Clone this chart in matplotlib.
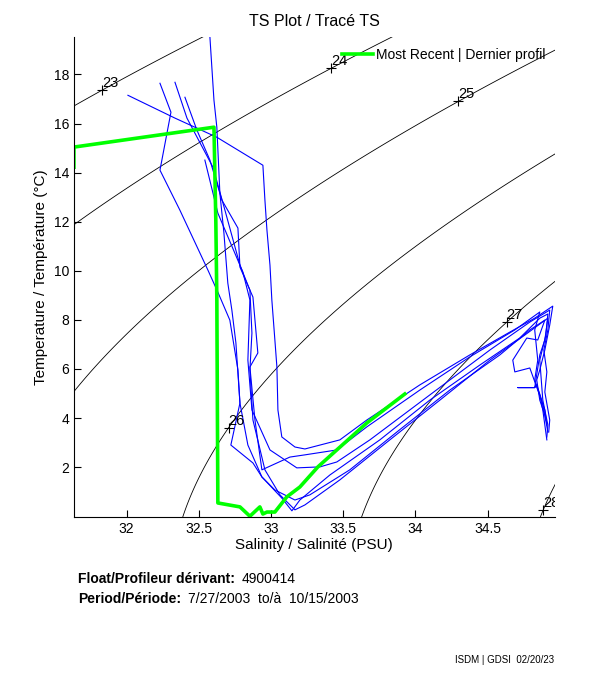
import numpy as np
import matplotlib
matplotlib.use("Agg")
import matplotlib.pyplot as plt
from matplotlib.lines import Line2D

plt.rcParams['font.family'] = ['Liberation Sans', 'DejaVu Sans']

# Most recent profile (green)
recent_S = [31.635, 31.635, 32.605, 32.618, 32.625, 32.632, 32.785, 32.854, 32.923,
            32.944, 32.972, 33.027, 33.110, 33.200, 33.325, 33.664, 33.927]
recent_T = [14.22, 15.04, 15.85, 12.0, 8.8, 0.54, 0.38, 0.0, 0.38,
            0.09, 0.17, 0.17, 0.79, 1.19, 2.01, 3.80, 4.98]

# Earlier profiles (blue)
p1_S = [32.577, 32.605, 32.625, 32.646, 32.674, 32.701, 32.729, 32.757, 32.785, 32.840,
        32.937, 33.075, 33.145, 33.200, 33.408, 33.754, 34.100, 34.447, 34.723, 34.862,
        34.918, 34.904, 34.862, 34.883, 34.918, 34.911]
p1_T = [19.52, 16.95, 15.85, 13.16, 11.54, 9.50, 8.40, 7.06, 4.61, 2.90,
        1.60, 0.74, 0.22, 0.66, 1.68, 3.11, 4.73, 6.16, 7.26, 8.07,
        8.24, 7.38, 6.36, 4.73, 3.72, 3.23]

p2_S = [32.009, 32.335, 32.625, 32.944, 32.958, 32.972, 32.993, 33.006, 33.027, 33.041,
        33.048, 33.075, 33.166, 33.235, 33.477, 33.664, 34.031, 34.377, 34.654, 34.827,
        34.952, 34.931, 34.897, 34.862, 34.841, 34.862, 34.897, 34.918]
p2_T = [17.15, 16.22, 15.44, 14.30, 12.88, 11.66, 10.23, 8.81, 7.18, 6.08,
        4.33, 3.23, 2.82, 2.74, 3.11, 3.92, 5.35, 6.57, 7.50, 8.07,
        8.56, 7.79, 6.77, 5.96, 5.55, 4.73, 4.12, 3.43]

p3_S = [32.231, 32.307, 32.231, 32.369, 32.563, 32.632, 32.715, 32.771, 32.785, 32.722,
        32.875, 32.937, 33.027, 33.166, 33.269, 33.546, 33.893, 34.239, 34.585, 34.793,
        34.897, 34.848, 34.772, 34.675, 34.689, 34.793, 34.848, 34.897, 34.911]
p3_T = [17.64, 16.46, 14.10, 12.47, 10.03, 9.13, 7.99, 5.96, 4.61, 2.90,
        2.17, 1.60, 1.07, 0.66, 0.87, 1.89, 3.53, 5.14, 6.57, 7.59,
        7.99, 7.18, 7.26, 6.36, 5.88, 6.04, 5.14, 4.33, 3.72]

p4_S = [32.335, 32.418, 32.598, 32.681, 32.785, 32.854, 32.868, 32.854, 32.875, 32.958,
        33.062, 33.166, 33.235, 33.477, 33.823, 34.170, 34.516, 34.758, 34.918, 34.897,
        34.862, 34.827, 34.710, 34.827, 34.841, 34.876, 34.904]
p4_T = [17.68, 16.22, 14.22, 12.47, 10.23, 9.21, 7.46, 5.96, 3.92, 1.89,
        0.87, 0.26, 0.46, 1.48, 3.11, 4.73, 6.36, 7.38, 8.07, 7.18,
        6.57, 5.24, 5.24, 5.24, 5.35, 4.73, 3.92]

p5_S = [32.404, 32.487, 32.577, 32.660, 32.771, 32.785, 32.875, 32.909, 32.854, 32.889,
        32.937, 33.131, 33.235, 33.456, 33.664, 34.031, 34.377, 34.689, 34.862, 34.827,
        34.848, 34.827, 34.862, 34.883, 34.911]
p5_T = [17.07, 15.73, 14.51, 12.88, 11.74, 10.15, 8.93, 6.65, 6.08, 3.92,
        1.89, 2.41, 2.50, 2.70, 3.64, 5.14, 6.49, 7.59, 8.32, 7.59,
        6.36, 5.55, 4.94, 4.33, 3.11]

p6_S = [32.542, 32.632, 32.805, 32.854, 32.840, 32.868, 32.993, 33.179, 33.339, 33.456,
        33.685, 34.100, 34.516, 34.793, 34.931, 34.918, 34.890, 34.911, 34.897, 34.931,
        34.924]
p6_T = [14.51, 12.35, 9.95, 8.81, 6.36, 4.33, 2.70, 1.97, 2.01, 2.21,
        3.11, 4.94, 6.77, 7.91, 8.40, 7.59, 6.77, 5.88, 5.06, 3.92,
        3.43]

blue_profiles = [(p1_S, p1_T), (p2_S, p2_T), (p3_S, p3_T),
                 (p4_S, p4_T), (p5_S, p5_T), (p6_S, p6_T)]

# isopycnals (sigma-t) and where their labels sit (temperature)
sigma_levels = [23, 24, 25, 26, 27, 28]
label_T = [17.36, 18.25, 16.9, 3.6, 7.9, 0.24]

xlim = (31.635, 34.966)
ylim = (-0.02, 19.52)
xticks = [32, 32.5, 33, 33.5, 34, 34.5]
yticks = [2, 4, 6, 8, 10, 12, 14, 16, 18]


def sigma_t(S, T):
    # UNESCO EOS-80 at surface pressure, minus 1000
    rw = (999.842594 + 6.793952e-2 * T - 9.095290e-3 * T**2 + 1.001685e-4 * T**3
          - 1.120083e-6 * T**4 + 6.536332e-9 * T**5)
    a = 0.824493 - 4.0899e-3 * T + 7.6438e-5 * T**2 - 8.2467e-7 * T**3 + 5.3875e-9 * T**4
    b = -5.72466e-3 + 1.0227e-4 * T - 1.6546e-6 * T**2
    return rw + a * S + b * S**1.5 + 4.8314e-4 * S**2 - 1000.0


fig = plt.figure(figsize=(6.11, 6.75), dpi=100)
ax = fig.add_axes([0.121, 0.2345, 0.787, 0.7105])

Sg, Tg = np.meshgrid(np.linspace(31.0, 35.5, 300), np.linspace(-1, 21, 300))
ax.contour(Sg, Tg, sigma_t(Sg, Tg), levels=sigma_levels, colors='black', linewidths=0.6)

s_line = np.linspace(29, 37, 4000)
for lev, tl in zip(sigma_levels, label_T):
    sl = np.interp(lev, sigma_t(s_line, tl), s_line)
    ax.plot(sl, tl, marker='+', color='black', ms=7, mew=0.8, clip_on=True)
    ax.annotate(str(lev), (sl, tl), xytext=(0, 0), textcoords='offset points',
                ha='left', va='bottom', fontsize=10.5, annotation_clip=True, clip_on=True)

for s, t in blue_profiles:
    ax.plot(s, t, color='#0000ff', lw=0.8)
ax.plot(recent_S, recent_T, color='#00ff00', lw=2.6)

ax.set_xlim(*xlim)
ax.set_ylim(*ylim)
ax.set_xticks(xticks)
ax.set_xticklabels([f"{v:g}" for v in xticks])
ax.set_yticks(yticks)
ax.tick_params(direction='in', length=5, labelsize=10, width=0.8)
for side in ['top', 'right']:
    ax.spines[side].set_visible(False)

ax.set_title("TS Plot / Tracé TS", fontsize=11.5, pad=8)
ax.set_xlabel("Salinity / Salinité (PSU)", fontsize=11, labelpad=1.5)
ax.set_ylabel("Temperature / Température (°C)", fontsize=11, labelpad=4)

handle = Line2D([], [], color='#00ff00', lw=2.6)
ax.legend([handle], ["Most Recent | Dernier profil"], loc='upper right',
          bbox_to_anchor=(1.0, 0.998), frameon=False, fontsize=10,
          handlelength=2.2, handletextpad=0.2, borderaxespad=0.3)

fig.text(78 / 611, 1 - 579 / 675, "Float/Profileur dérivant:", fontsize=10,
         fontweight='bold', va='center')
fig.text(242 / 611, 1 - 579 / 675, "4900414", fontsize=10, va='center')
fig.text(78 / 611, 1 - 599 / 675, "Period/Période:", fontsize=10,
         fontweight='bold', va='center')
fig.text(188 / 611, 1 - 599 / 675, "7/27/2003  to/à  10/15/2003", fontsize=10, va='center')
fig.text(554 / 611, 1 - 660 / 675, "ISDM | GDSI  02/20/23", fontsize=7, ha='right', va='center')

fig.savefig("out.png", dpi=100)
